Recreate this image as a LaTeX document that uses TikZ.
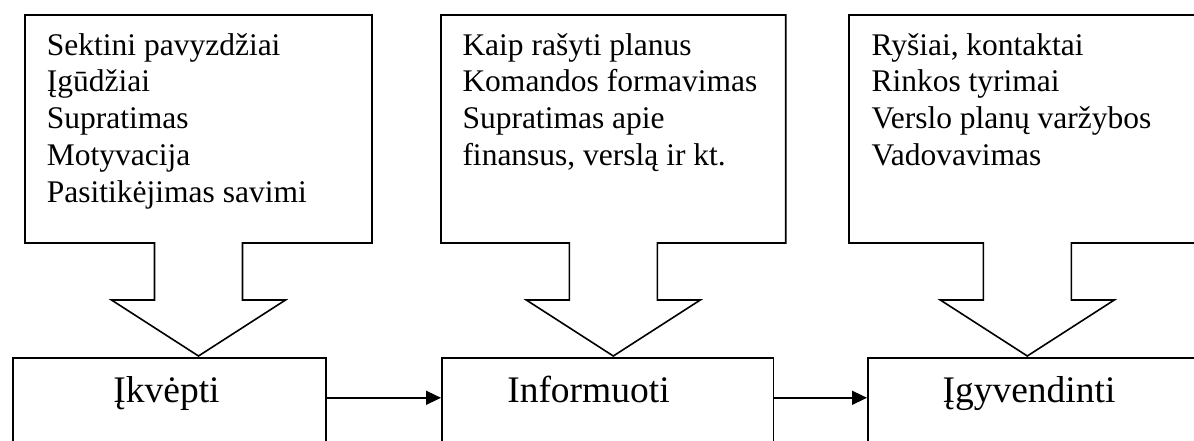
\documentclass[tikz,border=0pt]{standalone}
\usepackage{fontspec}
\setmainfont{Liberation Serif}
\usetikzlibrary{arrows.meta}
\tikzset{
  stage/.style={draw,line width=1.6pt,minimum height=100pt,inner sep=0pt,anchor=north west},
  list/.style={anchor=north west,inner sep=0pt,align=left,font=\fontsize{31.5}{36.8}\selectfont},
  stagetext/.style={anchor=base,inner sep=0pt,font=\fontsize{37.5}{40}\selectfont},
  flow/.style={line width=1.6pt,-{Triangle[length=15pt,width=14pt]}},
}
% left edge, right edge, tip
\newcommand{\downcallout}[3]{%
  \draw[line width=1.6pt] (#1,15) -- (#2,15) -- (#2,243) -- (#3+44,243) -- (#3+44,300)
    -- (#3+87,300) -- (#3,356) -- (#3-87,300) -- (#3-44,300) -- (#3-44,243) -- (#1,243) -- cycle;}
\begin{document}
\begin{tikzpicture}[x=1pt,y=-1pt]
\useasboundingbox (0,0) rectangle (1194,441);
\downcallout{25}{372}{198.5}
\downcallout{441}{785.7}{613.3}
\downcallout{849}{1210}{1027.3}
\node[list] (l1) at (46.7,33) {Sektini pavyzdžiai\\Įgūdžiai\\Supratimas\\Motyvacija\\Pasitikėjimas savimi};
\node[list] (l2) at (462.3,33) {Kaip rašyti planus\\Komandos formavimas\\Supratimas apie\\finansus, verslą ir kt.};
\node[list] (l3) at (871.3,33) {Ryšiai, kontaktai\\Rinkos tyrimai\\Verslo planų varžybos\\Vadovavimas};
\node[stage,minimum width=313pt] (b1) at (12,357) {};
\node[stage,minimum width=331.7pt] (b2) at (441,357) {};
\node[stage,minimum width=343pt] (b3) at (867,357) {};
\node[stagetext] (t1) at (166.5,402) {Įkvėpti};
\node[stagetext] (t2) at (588.5,402) {Informuoti};
\node[stagetext] (t3) at (1029,402) {Įgyvendinti};
\draw[flow] ([yshift=10pt]b1.east) -- ([yshift=10pt]b2.west);
\draw[flow] ([yshift=10pt]b2.east) -- ([yshift=10pt]b3.west);
\end{tikzpicture}
\end{document}
